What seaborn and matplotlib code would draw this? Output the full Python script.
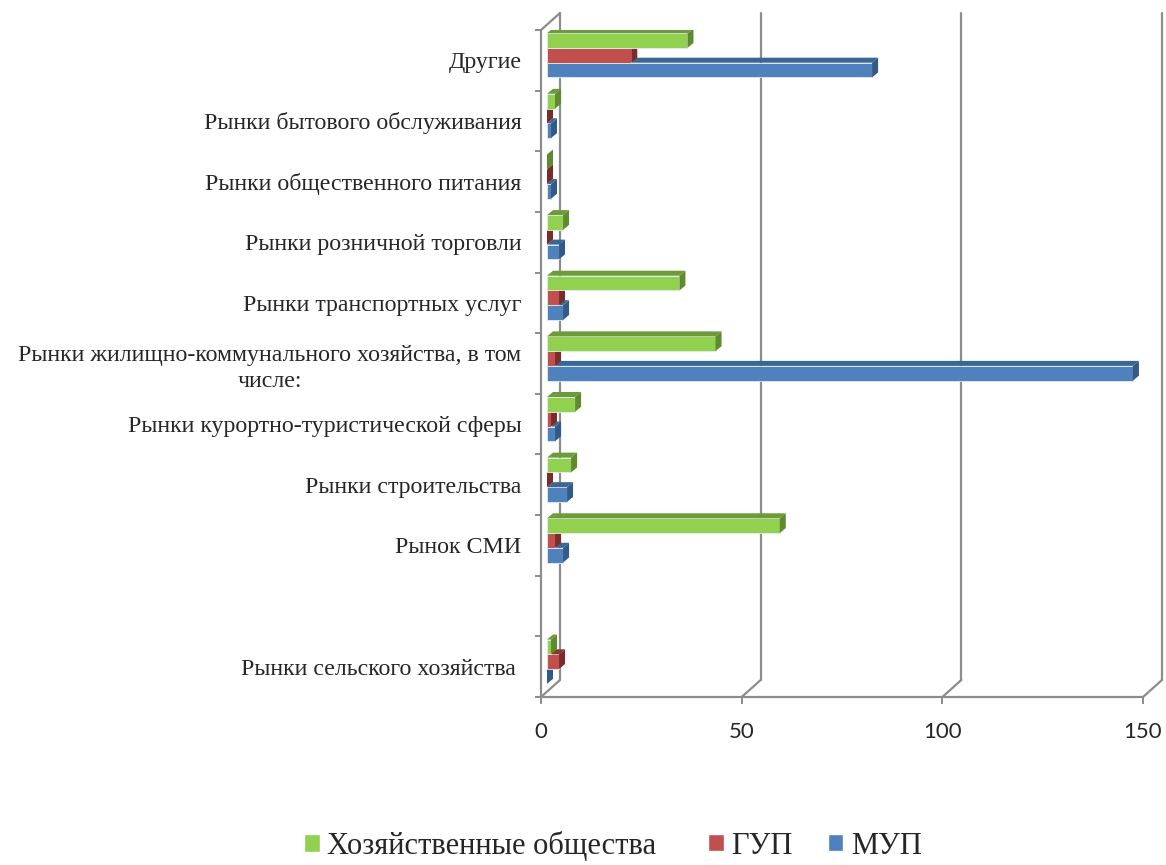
import numpy as np
import pandas as pd
import matplotlib
matplotlib.use('Agg')
import matplotlib.pyplot as plt
from matplotlib.patches import Polygon
import seaborn as sns

# categories, top to bottom (one empty slot as in the source)
CATEGORIES = [
    'Другие',
    'Рынки бытового обслуживания',
    'Рынки общественного питания',
    'Рынки розничной торговли',
    'Рынки транспортных услуг',
    'Рынки жилищно-коммунального хозяйства, в том\nчисле:',
    'Рынки курортно-туристической сферы',
    'Рынки строительства',
    'Рынок СМИ',
    ' ',
    'Рынки сельского хозяйства ',
]
SERIES = ['Хозяйственные общества', 'ГУП', 'МУП']
hoz = [35, 2, 0, 4, 33, 42, 7, 6, 58, np.nan, 1]
gup = [21, 0, 0, 0, 3, 2, 1, 0, 2, np.nan, 3]
mup = [81, 1, 1, 3, 4, 146, 2, 5, 4, np.nan, 0]
X_TICKS = [0, 50, 100, 150]

FRONT = {'Хозяйственные общества': '#92D050', 'ГУП': '#C0504D', 'МУП': '#4F81BD'}
TOP = {'Хозяйственные общества': '#6E9B3A', 'ГУП': '#8E3533', 'МУП': '#3B6594'}
SIDE = {'Хозяйственные общества': '#5F8A30', 'ГУП': '#7A2C2A', 'МУП': '#335A86'}
GRID = '#8C8C8C'

df = pd.DataFrame({'cat': CATEGORIES * 3,
                   'series': np.repeat(SERIES, len(CATEGORIES)),
                   'value': hoz + gup + mup})

sns.set_style('white')
fig = plt.figure(figsize=(11.66, 8.65), dpi=100)
ax = fig.add_axes([541 / 1166, 1 - 697 / 865, 602 / 1166, 667 / 865])

sns.barplot(data=df.dropna(), x='value', y='cat', hue='series', order=CATEGORIES,
            hue_order=SERIES, palette=FRONT, saturation=1, width=0.73, orient='h',
            errorbar=None, ax=ax, legend=True)
handles, labels = ax.get_legend_handles_labels()
ax.get_legend().remove()

ax.set_xlim(0, 150)
ax.set_ylim(10.5, -0.5)

# pixel -> data conversion for the fake depth
kx = 150 / 602
ky = 11 / 667
dx, dy = 6 * kx, 5 * ky          # bar depth
bx, by = 19 * kx, 17 * ky        # floor depth

zorders = {'Хозяйственные общества': 6, 'ГУП': 5, 'МУП': 4}
for container, name in zip(ax.containers, SERIES):
    z = zorders[name]
    for p in container.patches:
        w = p.get_width()
        if not np.isfinite(w):
            continue
        y0, h = p.get_y(), p.get_height()
        p.set_x(dx)
        p.set_y(y0 - dy)
        p.set_zorder(z)
        p.set_edgecolor('#e4ecf2')
        p.set_linewidth(0.6)
        top = [(dx, y0 - dy), (dx + w, y0 - dy), (2 * dx + w, y0 - 2 * dy), (2 * dx, y0 - 2 * dy)]
        side = [(dx + w, y0 - dy), (2 * dx + w, y0 - 2 * dy),
                (2 * dx + w, y0 + h - 2 * dy), (dx + w, y0 + h - dy)]
        ax.add_patch(Polygon(top, closed=True, facecolor=TOP[name], edgecolor='none', zorder=z))
        ax.add_patch(Polygon(side, closed=True, facecolor=SIDE[name], edgecolor='none', zorder=z))

# frame: front axes, back wall gridlines, slanted floor edges
for s in ax.spines.values():
    s.set_visible(False)
lw = 1.6
ax.plot([0, 0], [-0.5, 10.5], color=GRID, lw=lw, clip_on=False, zorder=2)
ax.plot([0, 150], [10.5, 10.5], color=GRID, lw=lw, clip_on=False, zorder=2)
ax.plot([0, bx], [-0.5, -0.5 - by], color=GRID, lw=lw, clip_on=False, zorder=2)
for v in X_TICKS:
    ax.plot([v + bx, v + bx], [-0.5 - by, 10.5 - by], color=GRID, lw=lw, clip_on=False, zorder=1)
    ax.plot([v, v + bx], [10.5, 10.5 - by], color=GRID, lw=lw, clip_on=False, zorder=1)

ax.set_xticks(X_TICKS)
ax.set_xticklabels([str(v) for v in X_TICKS], fontfamily='Lato', fontsize=16)
ax.tick_params(axis='x', length=5, width=1.4, color=GRID, pad=13, bottom=True)

ax.set_yticks(range(len(CATEGORIES)))
ax.set_yticklabels(CATEGORIES, fontfamily='Liberation Serif', fontsize=17.2,
                   multialignment='center', linespacing=1.3)
ax.set_yticks(np.arange(-0.5, len(CATEGORIES), 1), minor=True)
ax.tick_params(axis='y', which='major', length=0, pad=14)
ax.tick_params(axis='y', which='minor', length=4.5, width=1.4, color=GRID, left=True)
ax.set_xlabel('')
ax.set_ylabel('')
ax.grid(False)

leg_kw = dict(frameon=False, prop={'family': 'Liberation Serif', 'size': 22},
              handlelength=0.5, handleheight=0.5, handletextpad=0.25, borderpad=0)
fig.legend(handles[:1], labels[:1], loc='center left',
           bbox_to_anchor=(289 / 1166, 1 - 846 / 865), **leg_kw)
fig.legend(handles[1:], labels[1:], loc='center left', ncol=2, columnspacing=1.15,
           bbox_to_anchor=(693 / 1166, 1 - 846 / 865), **leg_kw)

fig.savefig('out.png', dpi=100)
